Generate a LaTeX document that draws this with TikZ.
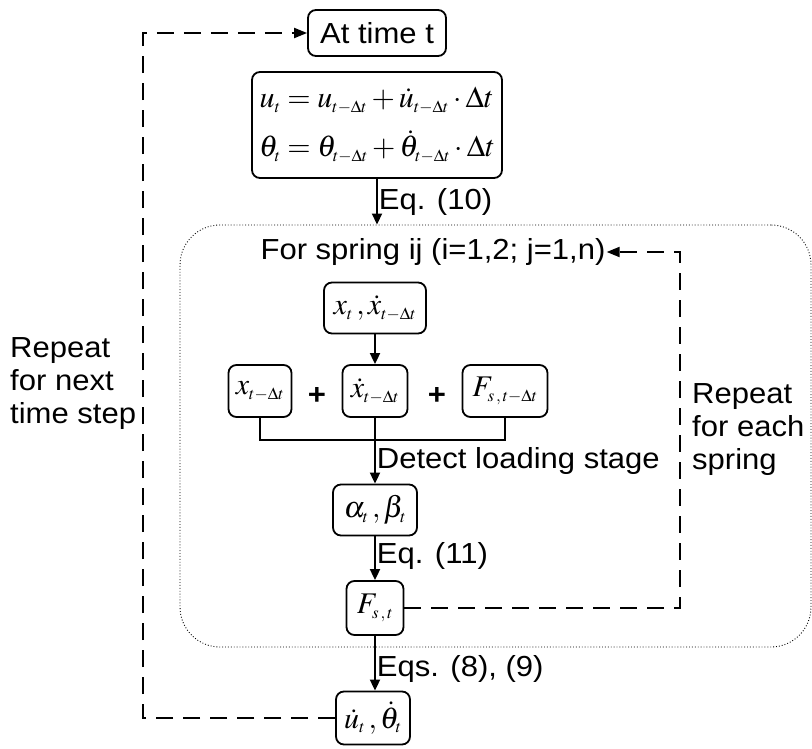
\documentclass[tikz,border=0pt]{standalone}
\usepackage{amsmath}
\usepackage{mathptmx}
\usepackage[no-math]{fontspec}
\setmainfont[FakeStretch=1.07]{Liberation Sans}
\DeclareMathSizes{30}{30}{17}{12}
\usetikzlibrary{arrows.meta}
\begin{document}
\begin{tikzpicture}[x=1pt,y=-1pt,
  box/.style={draw, line width=1.8pt, rounded corners=8pt, inner sep=0pt,
    font=\fontsize{30}{36}\selectfont},
  lbl/.style={font=\fontsize{29}{33}\selectfont, inner sep=1pt},
  solidline/.style={line width=1.8pt},
  conn/.style={line width=1.8pt, -{Triangle[length=11pt,width=10pt]}},
  dashline/.style={line width=2pt, dash pattern=on 17pt off 10pt},
  dasharrow/.style={dashline, -{Triangle[length=13pt,width=10pt]}}]
\useasboundingbox (0,0) rectangle (812,749);
% region
\node[draw, dotted, line width=0.9pt, rounded corners=40pt, minimum width=631pt,
  minimum height=422pt, inner sep=0pt] (region) at (495.5,436) {};
% nodes
\node[box, minimum width=138pt, minimum height=46pt, font=\fontsize{29}{33}\selectfont] (time) at (377,33) {At time t};
\node[box, minimum width=250pt, minimum height=106pt] (eq) at (377,125)
  {$\begin{aligned} u_t &= u_{t-\Delta t} + \dot u_{t-\Delta t}\cdot \Delta t\\[8pt]
   \theta_t &= \theta_{t-\Delta t} + \dot\theta_{t-\Delta t}\cdot \Delta t\end{aligned}$};
\node[lbl, anchor=center] (spring) at (433,252) {For spring ij (i=1,2; j=1,n)};
\node[box, minimum width=102pt, minimum height=51pt] (xt) at (375,308) {$x_t\,,\dot x_{t-\Delta t}$};
\node[box, minimum width=63pt, minimum height=52pt] (xp) at (260,391) {$x_{t-\Delta t}$};
\node[box, minimum width=65pt, minimum height=52pt] (xd) at (375,391) {$\dot x_{t-\Delta t}$};
\node[box, minimum width=85pt, minimum height=52pt] (fp) at (505,391) {$F_{s\,,\,t-\Delta t}$};
\node[lbl, font=\fontsize{29}{33}\selectfont\bfseries] (plus1) at (317,396) {+};
\node[lbl, font=\fontsize{29}{33}\selectfont\bfseries] (plus2) at (437,396) {+};
\node[box, minimum width=84pt, minimum height=51pt] (ab) at (375,510) {$\alpha_t\,,\beta_t$};
\node[box, minimum width=57pt, minimum height=54pt] (fs) at (375,608) {$F_{s\,,\,t}$};
\node[box, minimum width=74pt, minimum height=53pt] (ud) at (373,718) {$\dot u_t\,,\dot\theta_t$};
\node[lbl, align=left, anchor=west] (rep1) at (9,384) {Repeat\\for next\\time step};
\node[lbl, align=left, anchor=west] (rep2) at (691,430) {Repeat\\for each\\spring};
% connectors
\draw[conn] (eq.south -| 377,0) -- (eq.south |- region.north)
  node[pos=0.5, anchor=west, lbl] (l10) {Eq. (10)};
\draw[conn] (xt.south) -- (xd.north);
\coordinate (bj) at (375,440);
\draw[solidline] (xp.south) |- (bj) -| (fp.south);
\draw[conn] (xd.south) -- (ab.north)
  node[pos=0.66, anchor=west, lbl] (ldet) {Detect loading stage};
\draw[conn] (ab.south) -- (fs.north)
  node[pos=0.45, anchor=west, lbl] (l11) {Eq. (11)};
\draw[conn] (fs.south) -- (fs.south |- ud.north)
  node[pos=0.6, anchor=west, lbl] (l89) {Eqs. (8), (9)};
% loops
\coordinate (rc) at (680,0);
\draw[dasharrow] (fs.east) -- (fs.east -| rc) -- (rc |- spring.east) -- (spring.east);
\coordinate (lc) at (143,0);
\draw[dasharrow] (ud.west) -- (ud.west -| lc) -- (lc |- time.west) -- (time.west);
\end{tikzpicture}
\end{document}
